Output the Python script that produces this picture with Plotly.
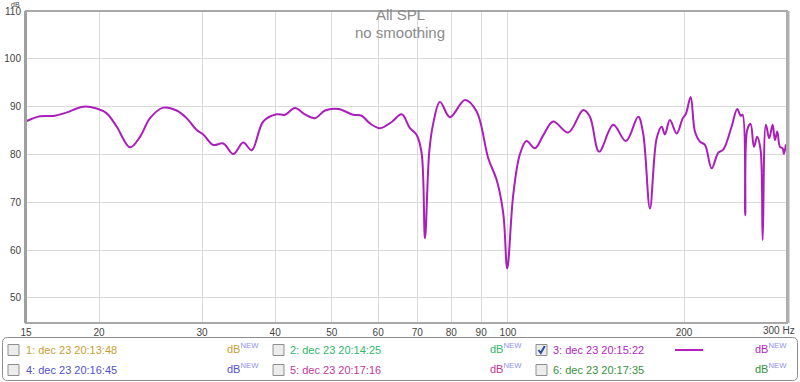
import plotly.graph_objects as go

# ---- data ----
freq_hz = [15.04, 15.85, 16.81, 17.61, 18.80, 19.81, 20.61, 21.44, 22.59, 23.50,
           24.44, 25.75, 27.14, 28.23, 29.37, 30.14, 31.35, 32.61, 33.92, 35.28,
           36.47, 38.17, 40.24, 41.57, 43.25, 44.98, 46.79, 48.67, 51.30, 54.40,
           56.22, 58.09, 60.42, 63.28, 65.82, 68.01, 69.82, 71.20, 72.14, 73.37,
           74.53, 76.52, 79.60, 84.43, 88.41, 92.55, 95.65, 98.18, 99.73, 102.1,
           104.8, 107.6, 111.2, 114.9, 119.5, 126.8, 134.5, 138.1, 143.2, 151.4,
           159.1, 167.0, 170.3, 174.9, 179.6, 183.2, 185.5, 189.2, 194.3, 198.9,
           201.5, 205.3, 208.8, 212.9, 217.2, 223.0, 228.9, 233.4, 241.2, 246.6,
           250.0, 251.9, 254.5, 256.5, 260.0, 263.4, 266.8, 270.4, 272.6, 276.1,
           279.7, 283.5, 286.1, 288.7, 291.8, 294.9, 296.4, 298.7]
spl_db = [87.0, 88.0, 88.1, 88.8, 90.0, 89.6, 88.6, 85.8, 81.5, 83.7,
          87.6, 89.8, 89.2, 87.6, 85.1, 84.2, 82.0, 82.3, 80.1, 82.5,
          80.9, 86.9, 88.4, 88.3, 89.7, 88.4, 87.6, 89.2, 89.5, 88.3,
          88.1, 86.5, 85.5, 86.8, 88.4, 85.5, 84.1, 80.3, 62.5, 80.6,
          86.5, 91.0, 87.8, 91.4, 89.0, 79.2, 74.7, 67.7, 56.2, 71.5,
          80.0, 82.8, 81.3, 84.0, 86.9, 84.6, 89.3, 87.9, 80.6, 86.2,
          82.8, 87.9, 84.4, 68.7, 83.4, 85.8, 84.2, 87.2, 84.4, 87.5,
          88.5, 92.0, 84.8, 82.7, 82.0, 77.1, 80.4, 81.0, 85.8, 89.5,
          88.1, 88.3, 67.3, 85.1, 86.4, 81.6, 83.7, 80.9, 62.1, 86.2,
          83.4, 86.2, 83.0, 84.8, 81.6, 81.3, 80.1, 82.1]

x_tick_vals = [15, 20, 30, 40, 50, 60, 70, 80, 90, 100, 200]
x_tick_text = ["15", "20", "30", "40", "50", "60", "70", "80", "90", "100", "200"]
y_tick_vals = [50, 60, 70, 80, 90, 100, 110]

legend_labels = ["1: dec 23 20:13:48", "2: dec 23 20:14:25", "3: dec 23 20:15:22",
                 "4: dec 23 20:16:45", "5: dec 23 20:17:16", "6: dec 23 20:17:35"]
legend_colors = ["#c8a032", "#2eb86a", "#b41ec3", "#5252cc", "#c2379a", "#35923a"]
legend_checked = [False, False, True, False, False, False]

title_lines = ["All SPL", "no smoothing"]

# ---- layout geometry ----
W, H = 800, 382
L, R, T, B = 26, 787, 11, 323
FONT = "Liberation Sans, Arial, sans-serif"


def X(px):
    return (px - L) / (R - L)


def Y(py):
    return 1 - (py - T) / (B - T)


fig = go.Figure()
fig.add_trace(go.Scatter(x=freq_hz, y=spl_db, mode="lines",
                         line=dict(color="#ab1ebc", width=2, shape="spline", smoothing=1.0),
                         hoverinfo="skip", showlegend=False))

fig.update_layout(
    width=W, height=H, autosize=False,
    margin=dict(l=L, r=W - R, t=T, b=H - B, pad=0, autoexpand=False),
    paper_bgcolor="white", plot_bgcolor="white",
    showlegend=False,
    font=dict(family=FONT, size=10, color="#444"),
    xaxis=dict(type="log", range=[1.1760913, 2.4771213], tickvals=x_tick_vals,
               ticktext=x_tick_text, showgrid=True, gridcolor="#dadada", gridwidth=1,
               zeroline=False, showline=False, ticks="", ticklabelstandoff=2,
               automargin=False, tickfont=dict(size=10, color="#444")),
    yaxis=dict(range=[44.77, 110], tickvals=y_tick_vals, showgrid=True,
               gridcolor="#dadada", gridwidth=1, zeroline=False, showline=False,
               ticks="", ticklabelstandoff=4, automargin=False,
               tickfont=dict(size=10, color="#444")),
)

shapes = []
# plot frame
shapes.append(dict(type="rect", xref="paper", yref="paper", x0=0, x1=1, y0=0, y1=1,
                   line=dict(color="#a8a8a8", width=2), layer="above"))
shapes.append(dict(type="line", xref="paper", yref="paper", x0=X(25.5), x1=X(25.5),
                   y0=0, y1=1, line=dict(color="#a0a0a0", width=3), layer="above"))
shapes.append(dict(type="line", xref="paper", yref="paper", x0=X(788), x1=X(788),
                   y0=0, y1=1, line=dict(color="#b0b0b0", width=3), layer="above"))

# legend box with rounded corners
x0, x1, y0, y1, r = 2.5, 797.5, 337.5, 380.5, 5
rx, ry = r / (R - L), r / (B - T)
path = (f"M {X(x0)+rx},{Y(y0)} L {X(x1)-rx},{Y(y0)} Q {X(x1)},{Y(y0)} {X(x1)},{Y(y0)-ry} "
        f"L {X(x1)},{Y(y1)+ry} Q {X(x1)},{Y(y1)} {X(x1)-rx},{Y(y1)} "
        f"L {X(x0)+rx},{Y(y1)} Q {X(x0)},{Y(y1)} {X(x0)},{Y(y1)+ry} "
        f"L {X(x0)},{Y(y0)-ry} Q {X(x0)},{Y(y0)} {X(x0)+rx},{Y(y0)} Z")
shapes.append(dict(type="path", xref="paper", yref="paper", path=path,
                   line=dict(color="#8c8c8c", width=1), fillcolor="white"))

annotations = []
# titles
for i, t in enumerate(title_lines):
    annotations.append(dict(text=t, xref="paper", yref="paper", x=X(400), y=Y(15 + 18 * i),
                            xanchor="center", yanchor="middle", showarrow=False,
                            font=dict(family=FONT, size=15, color="#8a8a8a")))
annotations.append(dict(text="dB", xref="paper", yref="paper", x=X(15), y=Y(0.5),
                        xanchor="center", yanchor="top", showarrow=False, borderpad=0,
                        font=dict(family=FONT, size=7, color="#444")))
annotations.append(dict(text="300 Hz", xref="paper", yref="paper", x=X(797), y=Y(330),
                        xanchor="right", yanchor="middle", showarrow=False,
                        font=dict(family=FONT, size=10, color="#444")))

col_box_x = [8, 273, 536]
col_lab_x = [24, 288, 551]
col_db_x = [225, 488, 753]
row_y = [350, 370]
for i, lab in enumerate(legend_labels):
    row, col = divmod(i, 3)
    cy = row_y[row]
    bx = col_box_x[col]
    shapes.append(dict(type="rect", xref="paper", yref="paper",
                       x0=X(bx), x1=X(bx + 11), y0=Y(cy - 5.5), y1=Y(cy + 5.5),
                       line=dict(color="#8f8f8f", width=1), fillcolor="#ececec"))
    if legend_checked[i]:
        shapes.append(dict(type="path", xref="paper", yref="paper",
                           path=f"M {X(bx+2.5)},{Y(cy)} L {X(bx+4.8)},{Y(cy+3)} L {X(bx+8.8)},{Y(cy-4)}",
                           line=dict(color="#2a4fa0", width=2)))
        shapes.append(dict(type="line", xref="paper", yref="paper",
                           x0=X(675), x1=X(703), y0=Y(cy), y1=Y(cy),
                           line=dict(color=legend_colors[i], width=2)))
    annotations.append(dict(text=lab, xref="paper", yref="paper", x=X(col_lab_x[col]), y=Y(cy),
                            xanchor="left", yanchor="middle", showarrow=False,
                            font=dict(family=FONT, size=11, color=legend_colors[i])))
    annotations.append(dict(text="dB<sup><span style='color:#9090ee'>NEW</span></sup>",
                            xref="paper", yref="paper",
                            x=X(col_db_x[col]), y=Y(cy - 2),
                            xanchor="left", yanchor="middle", showarrow=False,
                            font=dict(family=FONT, size=11, color=legend_colors[i])))

fig.update_layout(shapes=shapes, annotations=annotations)
fig.write_html("out.html", config={"displayModeBar": False},
               post_script="document.body.style.margin='0px';")
